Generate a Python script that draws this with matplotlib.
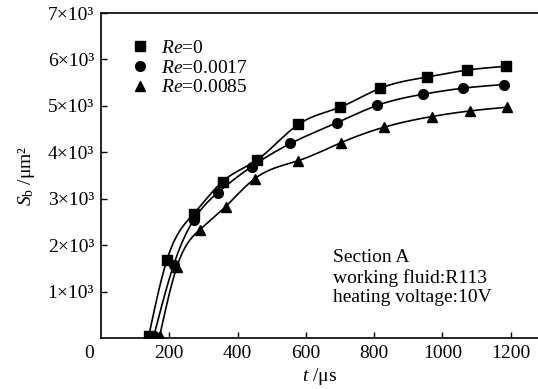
import numpy as np
import matplotlib
matplotlib.use("Agg")
import matplotlib.pyplot as plt
from matplotlib.lines import Line2D

plt.rcParams['font.family'] = ['Liberation Serif', 'DejaVu Serif']
plt.rcParams['mathtext.fontset'] = 'custom'
plt.rcParams['mathtext.rm'] = 'Liberation Serif'
plt.rcParams['mathtext.it'] = 'Liberation Serif:italic'

# data (t in microseconds, S_b in um^2)
t_re0 = [140, 193, 272, 356, 458, 578, 700, 818, 955, 1072, 1185]
s_re0 = [50, 1680, 2680, 3370, 3840, 4600, 4970, 5380, 5620, 5770, 5850]

t_re17 = [155, 213, 272, 342, 441, 555, 692, 809, 943, 1060, 1180]
s_re17 = [50, 1580, 2550, 3130, 3690, 4190, 4640, 5010, 5250, 5380, 5460]

t_re85 = [172, 222, 289, 365, 450, 578, 704, 829, 969, 1080, 1188]
s_re85 = [50, 1530, 2330, 2830, 3430, 3820, 4210, 4540, 4770, 4890, 4970]

labels = ['$\\mathit{Re}$=0', '$\\mathit{Re}$=0.0017', '$\\mathit{Re}$=0.0085']
markers = ['s', 'o', '^']
msizes = [6.5, 7, 7.5]

xticks = [200, 400, 600, 800, 1000, 1200]
yticks = [1000, 2000, 3000, 4000, 5000, 6000, 7000]
yticklabels = ['1×10³', '2×10³', '3×10³', '4×10³', '5×10³', '6×10³', '7×10³']


def natural_spline(x, y, xn):
    x = np.asarray(x, float); y = np.asarray(y, float)
    n = len(x)
    h = np.diff(x)
    A = np.zeros((n, n)); b = np.zeros(n)
    A[0, 0] = 1; A[-1, -1] = 1
    for i in range(1, n - 1):
        A[i, i - 1] = h[i - 1]
        A[i, i] = 2 * (h[i - 1] + h[i])
        A[i, i + 1] = h[i]
        b[i] = 3 * ((y[i + 1] - y[i]) / h[i] - (y[i] - y[i - 1]) / h[i - 1])
    c = np.linalg.solve(A, b)
    bb = (y[1:] - y[:-1]) / h - h * (2 * c[:-1] + c[1:]) / 3
    d = (c[1:] - c[:-1]) / (3 * h)
    idx = np.clip(np.searchsorted(x, xn) - 1, 0, n - 2)
    dx = xn - x[idx]
    return y[idx] + bb[idx] * dx + c[idx] * dx**2 + d[idx] * dx**3


fig = plt.figure(figsize=(5.38, 3.89), dpi=100)
ax = fig.add_axes([101 / 538, 51 / 389, 1 - 101 / 538, (338 - 13) / 389])

series = [(t_re0, s_re0), (t_re17, s_re17), (t_re85, s_re85)]
for (tx, sy), mk, ms in zip(series, markers, msizes):
    xn = np.linspace(tx[0], tx[-1], 500)
    ax.plot(xn, natural_spline(tx, sy, xn), color='black', lw=1.2)
    ax.plot(tx, sy, linestyle='none', marker=mk, ms=ms, color='black')

ax.set_xlim(0, 1280)
ax.set_ylim(0, 7000)
ax.set_xticks(xticks)
ax.set_xticklabels([str(v) for v in xticks])
ax.set_yticks(yticks)
ax.set_yticklabels(yticklabels)
ax.tick_params(direction='in', length=4, width=1, labelsize=14, pad=5)
ax.spines['right'].set_visible(False)
for s in ['left', 'bottom', 'top']:
    ax.spines[s].set_linewidth(1.2)

ax.text(-0.027, -0.022, '0', transform=ax.transAxes, ha='center', va='top', fontsize=14)

ax.set_xlabel('$t$ /μs', fontsize=14, labelpad=3)
ax.set_ylabel('$S_\\mathrm{b}$ /μm²', fontsize=14, labelpad=8)

handles = [Line2D([], [], linestyle='none', marker=mk, ms=ms, color='black')
           for mk, ms in zip(markers, msizes)]
ax.legend(handles, labels, loc='upper left', bbox_to_anchor=(0.035, 0.962), frameon=False,
          fontsize=14, handlelength=1.0, handletextpad=0.6, labelspacing=0.12, borderpad=0.2)

ax.text(0.532, 0.185, 'Section A\nworking fluid:R113\nheating voltage:10V',
        transform=ax.transAxes, ha='left', va='center', fontsize=14, linespacing=1.2)

fig.savefig('out.png', dpi=100)
